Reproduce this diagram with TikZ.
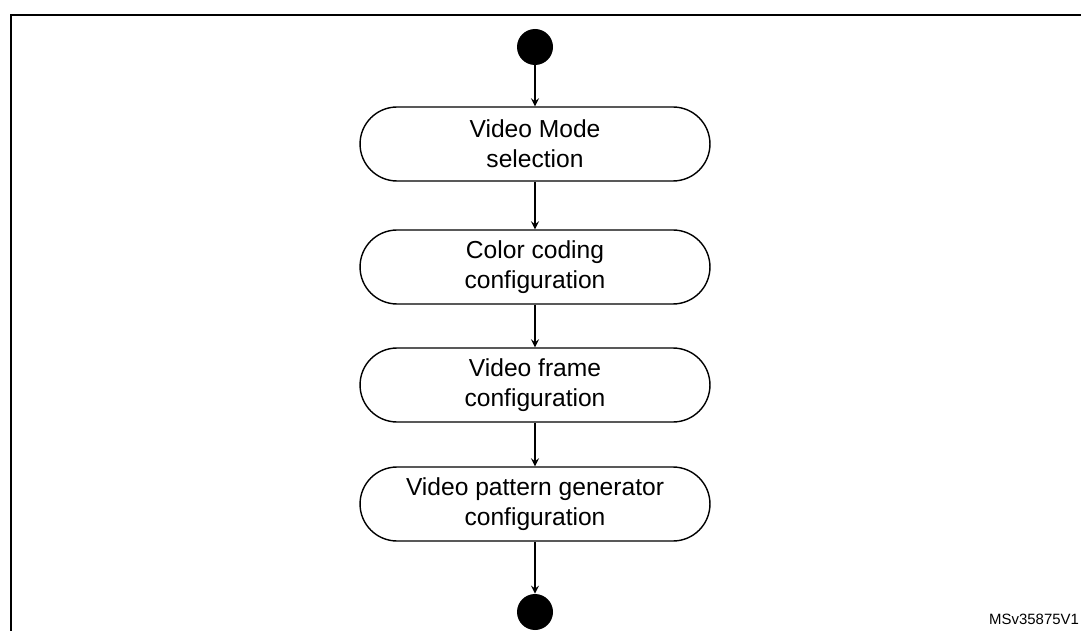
\documentclass[tikz,border=0pt]{standalone}
\usepackage{fontspec}
\setmainfont{Liberation Sans}
\usetikzlibrary{positioning,arrows,shapes}
\tikzstyle{act}=[draw, rounded corners=0.74cm, minimum height=1.48cm, minimum width=7cm, align=center, font=\fontsize{14}{17}\selectfont, thick]
\tikzstyle{dot}=[circle, fill=black, minimum size=0.72cm, inner sep=0pt]
\tikzstyle{flow}=[->, line width=1pt]
\begin{document}
\begin{tikzpicture}[x=0.02cm,y=-0.02cm,node distance=2cm,auto,>=stealth]
\useasboundingbox (0,0) rectangle (1081,631);
\draw[line width=1.2pt] (11,660) -- (11,15) -- (1100,15);
\node[dot] at (535,47) (start) {};
\node[act] at (535,144) (mode) {Video Mode\\selection};
\node[act] at (535,267) (color) {Color coding\\configuration};
\node[act] at (535,385) (frame) {Video frame\\configuration};
\node[act] at (535,504) (pattern) {Video pattern generator\\configuration};
\node[dot] at (535,612) (stop) {};
\draw[flow] (start) -- (mode);
\draw[flow] (mode) -- (color);
\draw[flow] (color) -- (frame);
\draw[flow] (frame) -- (pattern);
\draw[flow] (pattern) -- (stop);
\node[anchor=east, inner sep=1pt, font=\fontsize{8.5}{10}\selectfont] at (1081,619) (id) {MSv35875V1};
\end{tikzpicture}
\end{document}
